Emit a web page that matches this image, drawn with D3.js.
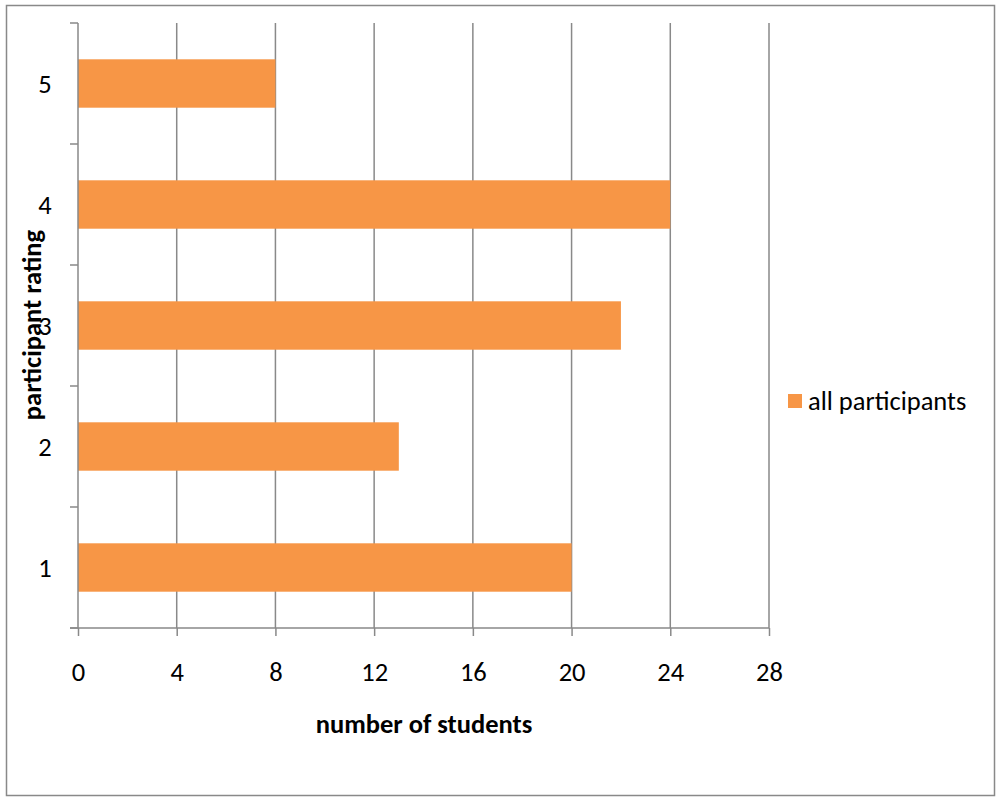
<!DOCTYPE html>
<html>
<head>
<meta charset="utf-8">
<script src="https://cdn.jsdelivr.net/npm/d3@7"></script>
<style>
  body { margin: 0; background: #fff; }
  text { font-family: Carlito, "Open Sans", "Liberation Sans", sans-serif; fill: #000; }
</style>
</head>
<body>
<script>
// chart data
var ratings = ['1', '2', '3', '4', '5'];
var students = [20, 13, 22, 24, 8];
var xTicks = [0, 4, 8, 12, 16, 20, 24, 28];
var seriesName = 'all participants';

var W = 996, H = 797;
var margin = {top: 23, left: 78, right: 227, bottom: 169};
var width = W - margin.left - margin.right;   // 691
var height = H - margin.top - margin.bottom;  // 605
var barColor = '#f79646';
var gridColor = '#898989';
var fs = 26.5;

var svg = d3.select('body').append('svg')
    .attr('width', W)
    .attr('height', H);

// outer frame
svg.append('rect')
    .attr('x', 6.5).attr('y', 5.5)
    .attr('width', 988).attr('height', 790)
    .attr('fill', 'none')
    .attr('stroke', gridColor)
    .attr('stroke-width', 1.5);

var g = svg.append('g')
    .attr('transform', 'translate(' + margin.left + ',' + margin.top + ')');

var x = d3.scaleLinear().domain([0, 28]).range([0, width]);
var y = d3.scaleBand().domain(ratings.slice().reverse()).range([0, height])
    .paddingInner(0.6).paddingOuter(0.3);

// vertical gridlines
g.append('g').selectAll('line')
    .data(xTicks.slice(1))
    .enter().append('line')
    .attr('x1', function (d) { return x(d); })
    .attr('x2', function (d) { return x(d); })
    .attr('y1', 0).attr('y2', height)
    .attr('stroke', gridColor)
    .attr('stroke-width', 1.5);

// bars
g.append('g').selectAll('rect')
    .data(ratings)
    .enter().append('rect')
    .attr('x', x(0))
    .attr('y', function (d) { return y(d); })
    .attr('width', function (d, i) { return x(students[i]) - x(0); })
    .attr('height', y.bandwidth())
    .attr('fill', barColor);

// x axis
var xAxis = g.append('g')
    .attr('transform', 'translate(0,' + height + ')')
    .call(d3.axisBottom(x).tickValues(xTicks).tickSize(8).tickPadding(26));
xAxis.select('.domain').attr('stroke', gridColor).attr('stroke-width', 1.5)
    .attr('d', 'M-8,0H' + width);
xAxis.selectAll('.tick line').attr('stroke', gridColor).attr('stroke-width', 1.5);
xAxis.selectAll('.tick text').attr('font-size', fs);

// y axis: ticks at band boundaries
var bounds = d3.range(ratings.length + 1).map(function (i) { return i * height / ratings.length; });
var yAxis = g.append('g');
yAxis.append('line')
    .attr('x1', 0).attr('x2', 0).attr('y1', 0).attr('y2', height)
    .attr('stroke', gridColor).attr('stroke-width', 1.5);
yAxis.selectAll('line.tk')
    .data(bounds)
    .enter().append('line')
    .attr('class', 'tk')
    .attr('x1', -8).attr('x2', 0)
    .attr('y1', function (d) { return d; })
    .attr('y2', function (d) { return d; })
    .attr('stroke', gridColor).attr('stroke-width', 1.5);
yAxis.selectAll('text')
    .data(ratings)
    .enter().append('text')
    .attr('x', -33)
    .attr('y', function (d) { return y(d) + y.bandwidth() / 2; })
    .attr('dy', '0.35em')
    .attr('text-anchor', 'middle')
    .attr('font-size', fs)
    .text(function (d) { return d; });

// axis titles
svg.append('text')
    .attr('x', 424).attr('y', 733)
    .attr('text-anchor', 'middle')
    .attr('font-size', fs)
    .attr('font-weight', 'bold')
    .text('number of students');

svg.append('text')
    .attr('transform', 'translate(41,325) rotate(-90)')
    .attr('text-anchor', 'middle')
    .attr('font-size', fs)
    .attr('font-weight', 'bold')
    .text('participant rating');

// legend
var legend = svg.append('g').attr('transform', 'translate(788,394)');
legend.append('rect')
    .attr('width', 14).attr('height', 14)
    .attr('fill', barColor);
legend.append('text')
    .attr('x', 20).attr('y', 7)
    .attr('dy', '0.35em')
    .attr('font-size', fs)
    .text(seriesName);
</script>
</body>
</html>
